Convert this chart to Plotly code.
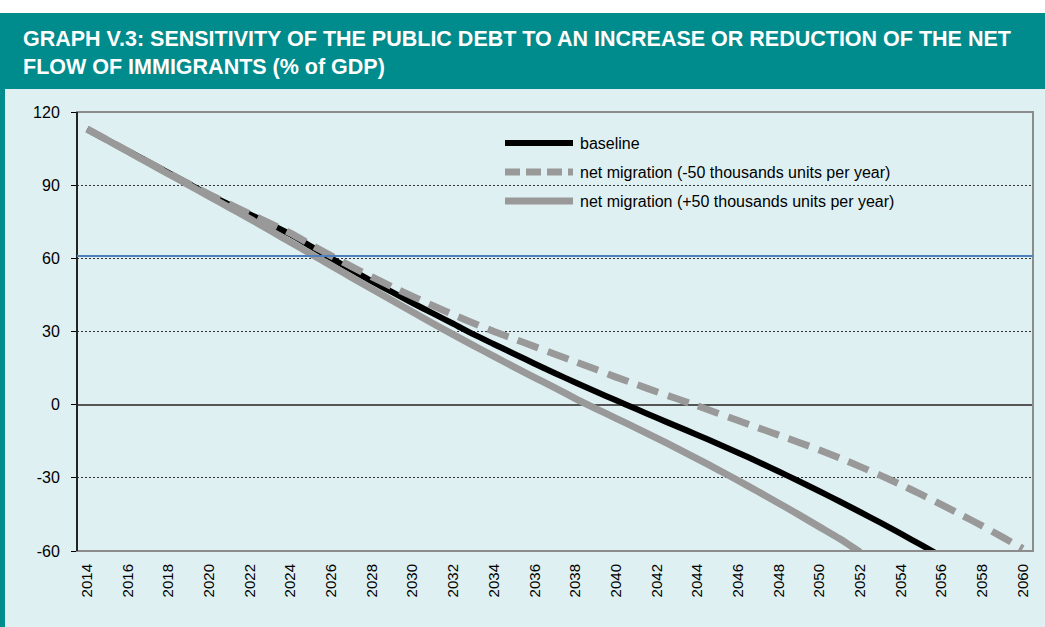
import plotly.graph_objects as go

# Years of the projection horizon
years = list(range(2014, 2061))

# Public debt, % of GDP
baseline = [113.0, 108.5, 104.0, 99.5, 95.0, 90.5, 86.0, 82.0, 78.0, 74.0,
            69.8, 64.9, 60.0, 55.3, 50.6, 46.1, 41.7, 37.4, 33.2, 28.8,
            24.8, 20.8, 16.8, 12.9, 9.1, 5.4, 1.8, -1.8, -5.4, -8.9,
            -12.4, -16.0, -19.7, -23.5, -27.4, -31.4, -35.5, -39.7, -44.0, -48.4,
            -52.9, -57.5, -62.2, None, None, None, None]
migration_minus50 = [113.0, 108.5, 104.0, 99.5, 95.0, 90.5, 86.2, 82.2, 78.2, 74.3,
                     70.3, 65.6, 61.0, 56.6, 52.4, 48.3, 44.4, 40.6, 36.9, 33.4,
                     30.0, 26.9, 23.8, 20.7, 17.6, 14.5, 11.3, 8.3, 5.3, 2.4,
                     -0.5, -3.5, -6.5, -9.5, -12.5, -15.5, -18.6, -21.9, -25.4, -29.0,
                     -32.8, -36.8, -41.0, -45.3, -49.7, -54.3, -59.0]
migration_plus50 = [113.0, 108.4, 103.8, 99.2, 94.6, 90.0, 85.4, 80.8, 76.2, 71.4,
                    66.6, 61.8, 57.0, 52.2, 47.4, 42.7, 38.0, 33.3, 28.7, 24.2,
                    19.8, 15.4, 11.1, 6.9, 2.5, -1.6, -5.6, -9.6, -13.7, -17.9,
                    -22.2, -26.6, -31.1, -35.7, -40.4, -45.2, -50.1, -55.0, -60.5, None,
                    None, None, None, None, None, None, None]

series_names = ["baseline",
                "net migration (-50 thousands units per year)",
                "net migration (+50 thousands units per year)"]

tick_years = list(range(2014, 2061, 2))
y_ticks = [-60, -30, 0, 30, 60, 90, 120]
reference_level = 61

title_text = ("GRAPH V.3: SENSITIVITY OF THE PUBLIC DEBT TO AN INCREASE OR REDUCTION OF THE NET"
              "<br>FLOW OF IMMIGRANTS (% of GDP)")

# Page geometry (pixels)
W, H = 1045, 627
L, R, T, B = 77, 1033, 112, 551
PW, PH = R - L, B - T


def px_x(x):
    return (x - L) / PW


def px_y(y):
    return (B - y) / PH


TEAL = "#008B8C"
BG = "#DFF0F2"
GREY = "#999999"
FONT = "Liberation Sans, Arial, sans-serif"

fig = go.Figure()

fig.add_trace(go.Scatter(x=years, y=baseline, name=series_names[0], mode="lines",
                         line=dict(color="black", width=6, shape="spline", smoothing=0.6),
                         showlegend=False))
fig.add_trace(go.Scatter(x=years, y=migration_plus50, name=series_names[2], mode="lines",
                         line=dict(color=GREY, width=7, shape="spline", smoothing=0.6),
                         showlegend=False))
fig.add_trace(go.Scatter(x=years, y=migration_minus50, name=series_names[1], mode="lines",
                         line=dict(color=GREY, width=7, dash="22px,10px",
                                   shape="spline", smoothing=0.6),
                         showlegend=False))

shapes = [
    # white strip and teal header band
    dict(type="rect", xref="paper", yref="paper", x0=px_x(0), x1=px_x(W),
         y0=px_y(13), y1=px_y(0), fillcolor="white", line_width=0, layer="below"),
    dict(type="rect", xref="paper", yref="paper", x0=px_x(0), x1=px_x(W),
         y0=px_y(89), y1=px_y(13), fillcolor=TEAL, line_width=0, layer="below"),
    # teal frame on the left edge
    dict(type="rect", xref="paper", yref="paper", x0=px_x(0), x1=px_x(5),
         y0=px_y(H), y1=px_y(89), fillcolor=TEAL, line_width=0, layer="below"),
    # plot-area border: grey top/right/bottom, black left axis
    dict(type="rect", xref="paper", yref="paper", x0=0, x1=1, y0=0, y1=1,
         line=dict(color="#8C8C8C", width=2), layer="above"),
    dict(type="line", xref="paper", yref="paper", x0=0, x1=0, y0=0, y1=1,
         line=dict(color="black", width=1.5), layer="above"),
    # reference level
    dict(type="line", xref="paper", yref="y", x0=0, x1=1,
         y0=reference_level, y1=reference_level,
         line=dict(color="#4F81BD", width=2), layer="above"),
]

# hand-drawn legend
legend_rows = [(143, dict(color="black", width=6)),
               (172, dict(color=GREY, width=7, dash="15px,6px")),
               (201, dict(color=GREY, width=7))]
annotations = []
for (ly, lstyle), name in zip(legend_rows, series_names):
    shapes.append(dict(type="line", xref="paper", yref="paper",
                       x0=px_x(505), x1=px_x(573), y0=px_y(ly), y1=px_y(ly),
                       line=lstyle, layer="above"))
    annotations.append(dict(xref="paper", yref="paper", x=px_x(578), y=px_y(ly),
                            xanchor="left", yanchor="middle", text=name, showarrow=False,
                            font=dict(family=FONT, size=16, color="black")))

annotations.append(dict(xref="paper", yref="paper", x=px_x(21), y=px_y(25),
                        xanchor="left", yanchor="top", align="left", showarrow=False,
                        text="<b>" + title_text + "</b>",
                        font=dict(family=FONT, size=21.5, color="white")))

fig.update_layout(
    width=W, height=H, autosize=False,
    margin=dict(l=L, r=W - R, t=T, b=H - B, pad=0),
    paper_bgcolor=BG, plot_bgcolor=BG,
    shapes=shapes, annotations=annotations,
    showlegend=False,
    font=dict(family=FONT, size=14, color="black"),
)

fig.update_xaxes(
    range=[2013.5, 2060.5], tickvals=tick_years, ticktext=[str(y) for y in tick_years],
    tickangle=-90, showgrid=False, zeroline=False, showline=False, ticks="",
    ticklabelstandoff=9, tickfont=dict(family=FONT, size=15),
)
fig.update_yaxes(
    range=[-60, 120], tickvals=y_ticks, ticktext=[str(v) for v in y_ticks],
    showgrid=True, gridcolor="#333333", gridwidth=1,
    griddash="2px,2px", zeroline=True, zerolinecolor="#555555", zerolinewidth=1.5,
    showline=False, ticks="outside", ticklen=5,
    tickcolor="black", ticklabelstandoff=8, tickfont=dict(family=FONT, size=16),
)

fig.write_html("out.html")
